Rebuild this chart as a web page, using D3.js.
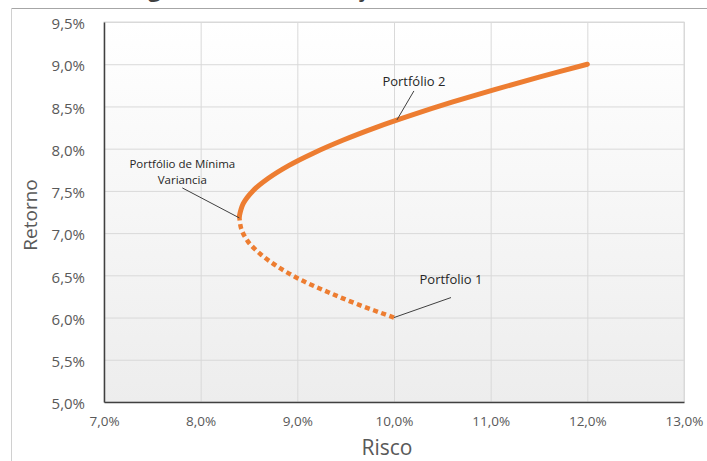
<!DOCTYPE html>
<html>
<head>
<meta charset="utf-8">
<script src="https://cdn.jsdelivr.net/npm/d3@7"></script>
<style>
  html, body { margin: 0; padding: 0; background: #fff; overflow: hidden; }
  svg { display: block; font-family: "Open Sans", "Noto Sans", sans-serif; }
</style>
</head>
<body>
<svg id="chart" width="707" height="461"></svg>
<script>
// risk (%) and return (%) along the frontier, from Portfolio 1 up to Portfolio 2
const risco = [10.00, 9.64, 9.32, 9.03, 8.80, 8.62, 8.49, 8.42, 8.40,
               8.44, 8.54, 8.70, 8.91, 9.17, 9.47, 9.81, 10.19, 10.60, 11.04, 11.51, 12.00];
const retorno = [6.00, 6.15, 6.30, 6.45, 6.60, 6.75, 6.90, 7.05, 7.20,
                 7.35, 7.50, 7.65, 7.80, 7.95, 8.10, 8.25, 8.40, 8.55, 8.70, 8.85, 9.00];
// index where the dotted (lower) part ends and the solid part begins
const splitIndex = 8;

const xTicks = [7, 8, 9, 10, 11, 12, 13];
const yTicks = [5.0, 5.5, 6.0, 6.5, 7.0, 7.5, 8.0, 8.5, 9.0, 9.5];

const labels = [
  { text: ["Portfólio 2"], x: 10.03, y: 8.34 },
  { text: ["Portfolio 1"], x: 10.00, y: 6.00 },
  { text: ["Portfólio de Mínima", "Variancia"], x: 8.40, y: 7.18 }
];

const width = 707, height = 461;
const margin = { top: 22, right: 23, bottom: 59, left: 104 };

const svg = d3.select("#chart");
const fmt = d => d3.format(".1f")(d).replace(".", ",") + "%";

const x = d3.scaleLinear().domain([7, 13]).range([margin.left, width - margin.right]);
const y = d3.scaleLinear().domain([5, 9.5]).range([height - margin.bottom, margin.top]);

// title (cut off at the top edge, as in the source) and outer frame
svg.append("text")
  .attr("x", 112).attr("y", -3.5)
  .attr("font-size", 22).attr("font-weight", "bold").attr("fill", "#404040")
  .text("Diagrama da Combinação");
svg.append("line").attr("x1", 12).attr("x2", width).attr("y1", 8.5).attr("y2", 8.5)
  .attr("stroke", "#a6a6a6");
svg.append("line").attr("x1", 11.5).attr("x2", 11.5).attr("y1", 8).attr("y2", height)
  .attr("stroke", "#d0d0d0");

// plot area background
const defs = svg.append("defs");
const grad = defs.append("linearGradient").attr("id", "bg")
  .attr("x1", 0).attr("y1", 0).attr("x2", 0).attr("y2", 1);
grad.append("stop").attr("offset", "0%").attr("stop-color", "#ffffff");
grad.append("stop").attr("offset", "100%").attr("stop-color", "#ededed");

svg.append("rect")
  .attr("x", x(7)).attr("y", y(9.5))
  .attr("width", x(13) - x(7)).attr("height", y(5) - y(9.5))
  .attr("fill", "url(#bg)").attr("stroke", "#d9d9d9");

// gridlines
svg.append("g")
  .attr("transform", `translate(0,${y(5)})`)
  .call(d3.axisBottom(x).tickValues(xTicks.slice(1)).tickSize(-(y(5) - y(9.5))).tickFormat(""))
  .call(g => g.select(".domain").remove())
  .call(g => g.selectAll("line").attr("stroke", "#d9d9d9"));

svg.append("g")
  .attr("transform", `translate(${x(7)},0)`)
  .call(d3.axisLeft(y).tickValues(yTicks.slice(1)).tickSize(-(x(13) - x(7))).tickFormat(""))
  .call(g => g.select(".domain").remove())
  .call(g => g.selectAll("line").attr("stroke", "#d9d9d9"));

// axes
svg.append("g")
  .attr("transform", `translate(0,${y(5)})`)
  .call(d3.axisBottom(x).tickValues(xTicks).tickSize(0).tickPadding(14).tickFormat(fmt))
  .call(g => g.select(".domain").attr("stroke", "#404040").attr("stroke-width", 1.5))
  .call(g => g.selectAll("text").attr("font-size", 13.5).attr("fill", "#595959")
    .attr("font-family", "'Open Sans', sans-serif"));

svg.append("g")
  .attr("transform", `translate(${x(7)},0)`)
  .call(d3.axisLeft(y).tickValues(yTicks).tickSize(0).tickPadding(19).tickFormat(fmt))
  .call(g => g.select(".domain").attr("stroke", "#404040").attr("stroke-width", 1.5))
  .call(g => g.selectAll("text").attr("font-size", 15).attr("fill", "#595959").attr("dy", "0.45em")
    .attr("font-family", "'Open Sans', sans-serif"));

// axis titles
svg.append("text")
  .attr("x", (x(7) + x(13)) / 2 - 7).attr("y", 455)
  .attr("text-anchor", "middle").attr("font-size", 21).attr("fill", "#595959")
  .text("Risco");
svg.append("text")
  .attr("transform", `translate(37,${(y(5) + y(9.5)) / 2 + 3}) rotate(-90)`)
  .attr("text-anchor", "middle").attr("font-size", 19).attr("fill", "#595959")
  .text("Retorno");

// frontier
const pts = risco.map((r, i) => [r, retorno[i]]);
const line = d3.line().x(d => x(d[0])).y(d => y(d[1])).curve(d3.curveCatmullRom.alpha(0.5));

svg.append("path")
  .attr("d", line(pts.slice(0, splitIndex + 1)))
  .attr("fill", "none").attr("stroke", "#ed7d31").attr("stroke-width", 4.5)
  .attr("stroke-dasharray", "5,3.6");

svg.append("path")
  .attr("d", line(pts.slice(splitIndex)))
  .attr("fill", "none").attr("stroke", "#ed7d31").attr("stroke-width", 5)
  .attr("stroke-linecap", "round");

// annotations
const offsets = [
  { lx: 17, ly: -34, ex: 17, ey: -29 },
  { lx: 57, ly: -34, ex: 57, ey: -20 },
  { lx: -57, ly: -50, ex: -57, ey: -30 }
];

labels.forEach((d, i) => {
  const o = offsets[i];
  const px = x(d.x), py = y(d.y);
  svg.append("line")
    .attr("x1", px).attr("y1", py)
    .attr("x2", px + o.ex).attr("y2", py + o.ey)
    .attr("stroke", "#404040").attr("stroke-width", 1);
  const fs = d.text.length > 1 ? 11.5 : 13;
  const t = svg.append("text")
    .attr("text-anchor", "middle").attr("font-size", fs).attr("fill", "#262626");
  d.text.forEach((s, k) => {
    t.append("tspan").attr("x", px + o.lx).attr("y", py + o.ly + k * 16).text(s);
  });
});
</script>
</body>
</html>
